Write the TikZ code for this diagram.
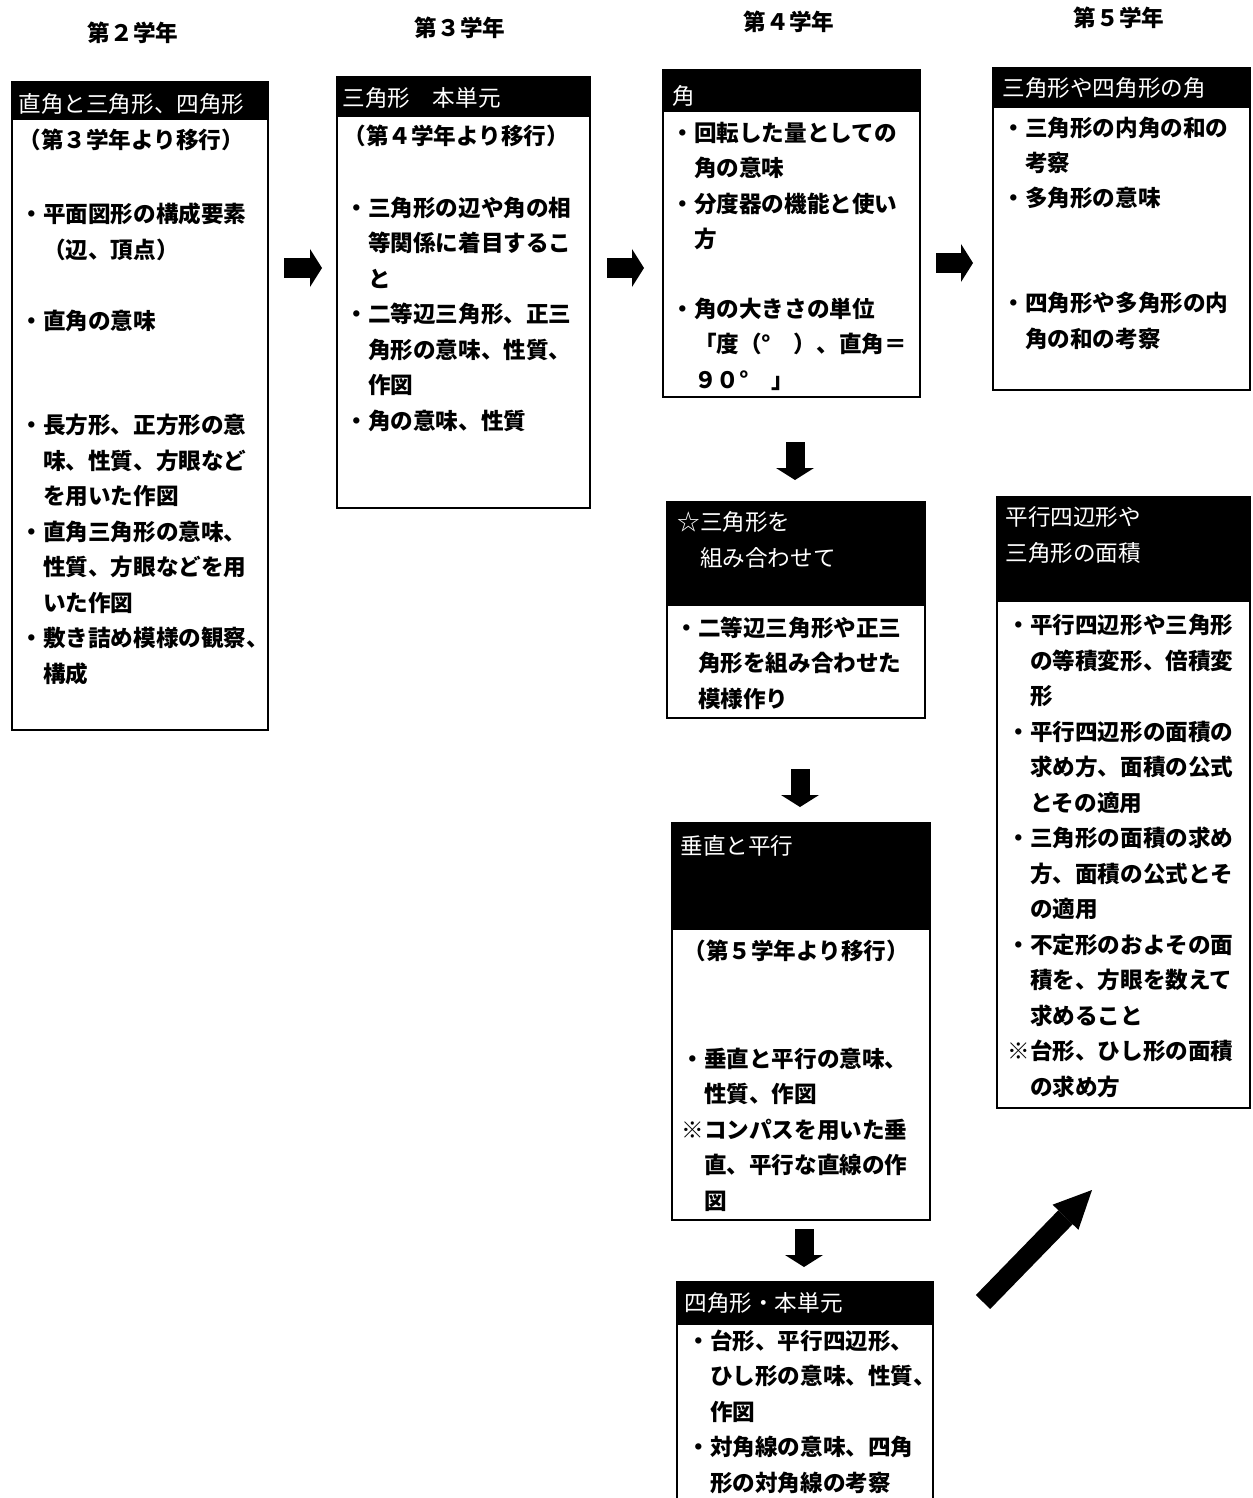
\documentclass[tikz,border=0pt]{standalone}
\usepackage{fontspec}
\setmainfont{Noto Sans CJK JP}
\usetikzlibrary{arrows.meta}
\newcommand{\jpsize}{\fontsize{11.3pt}{17.75pt}\selectfont}
\tikzset{
  panel/.style={draw=black,line width=1pt},
  bar/.style={fill=black},
  headtxt/.style={anchor=base west,inner sep=0pt,text=white,align=left,font=\jpsize},
  bodytxt/.style={anchor=base west,inner sep=0pt,align=left,font=\jpsize\bfseries},
  yeartxt/.style={inner sep=0pt,font=\jpsize\bfseries},
  blk/.style={line width=9.5pt,line cap=butt,-{Triangle[length=6pt,width=19pt,line width=0pt]}},
}
\begin{document}
\begin{tikzpicture}[x=0.5pt,y=-0.5pt]
\useasboundingbox (0,0) rectangle (1252,1498);
% years
\node[yeartxt] (y2) at (133,33) {第２学年};
\node[yeartxt] (y3) at (460,28) {第３学年};
\node[yeartxt] (y4) at (789,22) {第４学年};
\node[yeartxt] (y5) at (1119,18) {第５学年};
% grade 2 (text nodes sit on the baseline of their last line)
\draw[panel] (12,82) rectangle (268,730);
\fill[bar] (12,82) rectangle (268,120);
\node[headtxt] (h2) at (18,113) {直角と三角形、四角形};
\node[bodytxt] (t2a) at (18,149) {（第３学年より移行）};
\node[bodytxt] (t2b) at (20,258) {・平面図形の構成要素\\　（辺、頂点）};
\node[bodytxt] (t2c) at (20,329) {・直角の意味};
\node[bodytxt] (t2d) at (20,682) {・長方形、正方形の意\\　味、性質、方眼など\\　を用いた作図\\・直角三角形の意味、\\　性質、方眼などを用\\　いた作図\\・敷き詰め模様の観察、\\　構成};
% grade 3
\draw[panel] (337,77) rectangle (590,508);
\fill[bar] (337,77) rectangle (590,117);
\node[headtxt] (h3) at (342,107) {三角形　本単元};
\node[bodytxt] (t3a) at (343,145) {（第４学年より移行）};
\node[bodytxt] (t3b) at (345,429) {・三角形の辺や角の相\\　等関係に着目するこ\\　と\\・二等辺三角形、正三\\　角形の意味、性質、\\　作図\\・角の意味、性質};
% grade 4
\draw[panel] (663,70) rectangle (920,397);
\fill[bar] (663,70) rectangle (920,112);
\node[headtxt] (h4) at (672,105) {角};
\node[bodytxt] (t4a) at (671,248) {・回転した量としての\\　角の意味\\・分度器の機能と使い\\　方};
\node[bodytxt] (t4b) at (671,388) {・角の大きさの単位\\　「度（°　）、直角＝\\　９０°　」};
% grade 5
\draw[panel] (993,68) rectangle (1250,390);
\fill[bar] (993,68) rectangle (1250,108);
\node[headtxt] (h5) at (1002,97) {三角形や四角形の角};
\node[bodytxt] (t5a) at (1002,207) {・三角形の内角の和の\\　考察\\・多角形の意味};
\node[bodytxt] (t5b) at (1002,347) {・四角形や多角形の内\\　角の和の考察};
% combining triangles
\draw[panel] (667,502) rectangle (925,718);
\fill[bar] (667,502) rectangle (925,606);
\node[headtxt] (hk) at (677,566) {☆三角形を\\　組み合わせて};
\node[bodytxt] (tk) at (675,707) {・二等辺三角形や正三\\　角形を組み合わせた\\　模様作り};
% area
\draw[panel] (997,497) rectangle (1250,1108);
\fill[bar] (997,497) rectangle (1250,602);
\node[headtxt] (hm) at (1005,561) {平行四辺形や\\三角形の面積};
\node[bodytxt] (tm) at (1007,1095) {・平行四辺形や三角形\\　の等積変形、倍積変\\　形\\・平行四辺形の面積の\\　求め方、面積の公式\\　とその適用\\・三角形の面積の求め\\　方、面積の公式とそ\\　の適用\\・不定形のおよその面\\　積を、方眼を数えて\\　求めること\\※台形、ひし形の面積\\　の求め方};
% perpendicular and parallel
\draw[panel] (672,823) rectangle (930,1220);
\fill[bar] (672,823) rectangle (930,930);
\node[headtxt] (hs) at (680,854) {垂直と平行};
\node[bodytxt] (ts1) at (683,959) {（第５学年より移行）};
\node[bodytxt] (ts2) at (681,1209) {・垂直と平行の意味、\\　性質、作図\\※コンパスを用いた垂\\　直、平行な直線の作\\　図};
% quadrilaterals
\draw[panel] (677,1282) rectangle (933,1510);
\fill[bar] (677,1282) rectangle (933,1325);
\node[headtxt] (hq) at (684,1311) {四角形・本単元};
\node[bodytxt] (tq) at (687,1491) {・台形、平行四辺形、\\　ひし形の意味、性質、\\　作図\\・対角線の意味、四角\\　形の対角線の考察};
% arrows
\coordinate (r1s) at (284,268); \coordinate (r1e) at (322,268);
\coordinate (r2s) at (607,268); \coordinate (r2e) at (644,268);
\coordinate (r3s) at (936,263); \coordinate (r3e) at (973,263);
\coordinate (d1s) at (795,442); \coordinate (d1e) at (795,480);
\coordinate (d2s) at (800,769); \coordinate (d2e) at (800,807);
\coordinate (d3s) at (804,1229); \coordinate (d3e) at (804,1267);
\coordinate (ds) at (983,1302); \coordinate (de) at (1092,1190);
\draw[blk] (r1s) -- (r1e);
\draw[blk] (r2s) -- (r2e);
\draw[blk] (r3s) -- (r3e);
\draw[blk] (d1s) -- (d1e);
\draw[blk] (d2s) -- (d2e);
\draw[blk] (d3s) -- (d3e);
\draw[blk,line width=10pt,-{Triangle[length=19pt,width=18pt,line width=0pt]}] (ds) -- (de);
\end{tikzpicture}
\end{document}
